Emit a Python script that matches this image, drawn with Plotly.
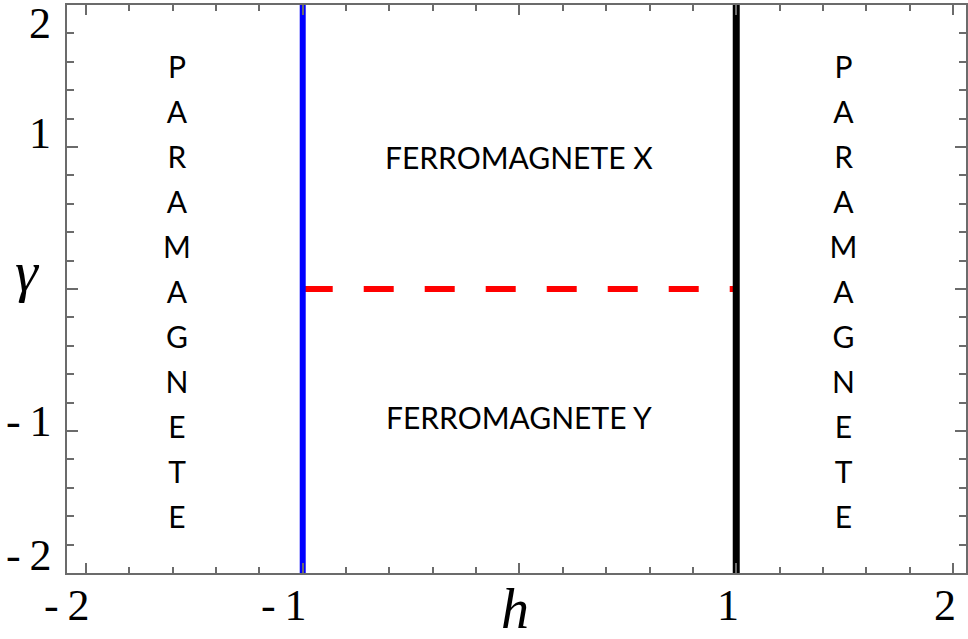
import plotly.graph_objects as go
import numpy as np

# ---- data ----
h_blue = [-1, -1]          # phase boundary h = -1
h_black = [1, 1]           # phase boundary h = 1
gamma_full = [-2, 2]
h_red = [-1, 1]            # gamma = 0 boundary between ferro X / Y
gamma_red = [0, 0]

x_tick_vals = [-2, -1, 1, 2]
x_tick_text = ["-\u20092", "-\u20091", "1", "2"]
y_tick_vals = [2, 1, -1, -2]
y_tick_text = ["2", "1", "-\u20091", "-\u20092"]

word = "PARAMAGNETE"
region_labels = ["FERROMAGNETE X", "FERROMAGNETE Y"]
region_x = [0.0, 0.0]
region_y = [0.93, -0.90]
col_x = [-1.58, 1.495]

X_RANGE = [-2.0875, 2.06]
Y_RANGE = [-2, 2]

fig = go.Figure()
fig.add_trace(go.Scatter(x=h_red, y=gamma_red, mode="lines",
                         line=dict(color="#ff0000", width=6, dash="30px,31px"),
                         hoverinfo="skip", showlegend=False))
fig.add_trace(go.Scatter(x=h_blue, y=gamma_full, mode="lines",
                         line=dict(color="#0000ff", width=6),
                         hoverinfo="skip", showlegend=False))
fig.add_trace(go.Scatter(x=h_black, y=gamma_full, mode="lines",
                         line=dict(color="#000000", width=7),
                         hoverinfo="skip", showlegend=False))

txt_font = dict(family="Lato", size=30, color="#000000")

# vertical PARAMAGNETE columns
letters = list(word)
ys = np.linspace(1.542, -1.628, len(letters))
for cx in col_x:
    fig.add_trace(go.Scatter(x=[cx] * len(letters), y=ys, mode="text", text=letters,
                             textfont=txt_font, hoverinfo="skip", showlegend=False))

annotations = []
for t, xx, yy in zip(region_labels, region_x, region_y):
    annotations.append(dict(x=xx, y=yy, xref="x", yref="y", text=t, showarrow=False,
                            font=txt_font))

tick_font = dict(family="Liberation Serif", size=44, color="#000000")
for v, t in zip(x_tick_vals, x_tick_text):
    annotations.append(dict(x=v, y=-2, xref="x", yref="y", text=t, showarrow=False,
                            xanchor="right", yanchor="middle", xshift=5, yshift=-32,
                            font=tick_font))
y_shifts = [-18, 14, 10, 18]
for v, t, s in zip(y_tick_vals, y_tick_text, y_shifts):
    annotations.append(dict(x=X_RANGE[0], y=v, xref="x", yref="y", text=t, showarrow=False,
                            xanchor="right", yanchor="middle", xshift=-14, yshift=s,
                            font=tick_font))

annotations.append(dict(x=X_RANGE[0], y=0, xref="x", yref="y", text="<i>γ</i>",
                        showarrow=False, xanchor="center", yanchor="middle",
                        xshift=-40, yshift=18,
                        font=dict(family="Liberation Serif", size=58, color="#000000")))
annotations.append(dict(x=0, y=-2, xref="x", yref="y", text="<i>h</i>",
                        showarrow=False, xanchor="center", yanchor="middle",
                        xshift=-4, yshift=-36,
                        font=dict(family="Liberation Serif", size=56, color="#000000")))

axis_common = dict(showgrid=False, zeroline=False, showline=True, linecolor="#6b6b6b",
                   linewidth=2, mirror="ticks", ticks="inside", tickcolor="#6b6b6b",
                   tickwidth=2, showticklabels=False, dtick=1, tick0=0)

fig.update_xaxes(range=X_RANGE, ticklen=10,
                 minor=dict(dtick=0.2, tick0=0, ticks="inside", ticklen=6,
                            tickwidth=2, tickcolor="#6b6b6b"),
                 **axis_common)
fig.update_yaxes(range=Y_RANGE, ticklen=11,
                 minor=dict(dtick=0.2, tick0=0, ticks="inside", ticklen=7,
                            tickwidth=2, tickcolor="#6b6b6b"),
                 **axis_common)

fig.update_layout(width=968, height=639, margin=dict(l=67, r=0, t=5, b=66),
                  plot_bgcolor="white", paper_bgcolor="white",
                  annotations=annotations, showlegend=False)

fig.write_html("out.html")
